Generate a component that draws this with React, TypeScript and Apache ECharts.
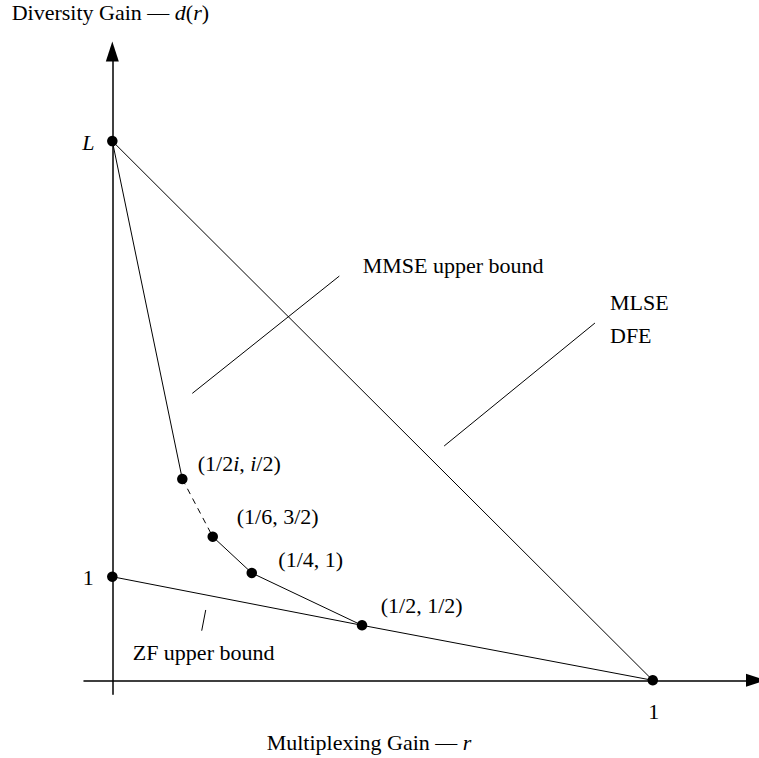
import React, { useEffect, useRef } from 'react';
import * as echarts from 'echarts';

// ---- data (schematic units) ----
const L_VALUE = 5.205;
const pointX = [0, 0.1295, 0.1858, 0.258, 0.462, 0, 1];
const pointY = [L_VALUE, 1.943, 1.386, 1.036, 0.531, 1, 0];
const pointLabels = ['{i|L}', '(1/2{i|i}, {i|i}/2)', '(1/6, 3/2)', '(1/4, 1)', '(1/2, 1/2)', '1', '1'];

// curves: indices into the point arrays
const mlseIdx = [0, 6];
const zfIdx = [5, 4, 6];
const mmseSolidA = [0, 1];
const mmseDashed = [1, 2];
const mmseSolidB = [2, 3, 4];

// leader (pointer) lines, in data units
const mmsePointerX = [0.148, 0.42];
const mmsePointerY = [2.77, 3.902];
const mlsePointerX = [0.614, 0.893];
const mlsePointerY = [2.262, 3.449];
const zfPointerX = [0.1654, 0.1728];
const zfPointerY = [0.479, 0.679];

// axis ranges
const xMin = -0.0524;
const xMax = 1.191;
const yMin = -0.135;
const yMax = 6.07;

// ---- layout / style (not data) ----
const FONT = '"Liberation Serif", serif';
const FS = 22;
const labelOffsets = [[-24, 1.5], [15.4, -16], [24, -20.7], [26.6, -13.7], [18.7, -20.3], [-24, 1], [1, 31]];
const labelAligns = ['center', 'left', 'left', 'left', 'left', 'center', 'center'];

const rich = { i: { fontStyle: 'italic', fontFamily: FONT, fontSize: FS, color: '#000' } };

function pts(idx: number[]) {
  return idx.map((i) => [pointX[i], pointY[i]]);
}
function pairs(xs: number[], ys: number[]) {
  return xs.map((x, i) => [x, ys[i]]);
}

function lineSeries(data: number[][], dashed = false) {
  return {
    type: 'line',
    data,
    symbol: 'none',
    silent: true,
    lineStyle: { color: '#000', width: 1, opacity: 1, type: dashed ? [6, 5] : 'solid' },
    z: 2,
  };
}

function txt(text: string, x: number, y: number) {
  return {
    type: 'text',
    x,
    y,
    style: {
      text,
      fill: '#000',
      fontFamily: FONT,
      fontSize: FS,
      textVerticalAlign: 'middle',
      verticalAlign: 'middle',
      align: 'left',
      rich,
    },
  };
}

export default function App() {
  const ref = useRef<HTMLDivElement>(null);
  useEffect(() => {
    if (!ref.current) return;
    const chart = echarts.init(ref.current, undefined, { renderer: 'svg' });
    const axisCommon = {
      type: 'value',
      axisLine: {
        show: true,
        onZero: true,
        symbol: ['none', 'triangle'],
        symbolSize: [13, 20],
        lineStyle: { color: '#000', width: 1.5 },
      },
      axisTick: { show: false },
      axisLabel: { show: false },
      splitLine: { show: false },
    };
    chart.setOption({
      animation: false,
      backgroundColor: '#fff',
      grid: { left: 84, right: 3, top: 51.5, bottom: 63.7, containLabel: false, outerBoundsMode: 'none' },
      xAxis: { ...axisCommon, min: xMin, max: xMax },
      yAxis: { ...axisCommon, min: yMin, max: yMax },
      series: [
        lineSeries(pts(mlseIdx)),
        lineSeries(pts(zfIdx)),
        lineSeries(pts(mmseSolidA)),
        lineSeries(pts(mmseDashed), true),
        lineSeries(pts(mmseSolidB)),
        lineSeries(pairs(mmsePointerX, mmsePointerY)),
        lineSeries(pairs(mlsePointerX, mlsePointerY)),
        lineSeries(pairs(zfPointerX, zfPointerY)),
        {
          type: 'scatter',
          symbol: 'circle',
          symbolSize: 10.5,
          itemStyle: { color: '#000', opacity: 1 },
          z: 5,
          silent: true,
          data: pointX.map((x, i) => ({
            value: [x, pointY[i]],
            label: {
              show: true,
              position: 'inside',
              formatter: pointLabels[i],
              offset: labelOffsets[i],
              align: labelAligns[i],
              verticalAlign: 'middle',
              color: '#000',
              opacity: 1,
              fontFamily: FONT,
              fontSize: FS,
              rich,
            },
          })),
        },
      ],
      graphic: [
        txt('Diversity Gain — {i|d}({i|r})', 11.7, 12.5),
        txt('Multiplexing Gain — {i|r}', 266.7, 742),
        txt('MMSE upper bound', 362.7, 265.3),
        txt('MLSE', 610, 302.8),
        txt('DFE', 610, 335),
        txt('ZF upper bound', 132.7, 652),
      ],
    });
    return () => chart.dispose();
  }, []);
  return <div ref={ref} style={{ position: 'fixed', left: 0, top: 0, width: 759, height: 758 }} />;
}
